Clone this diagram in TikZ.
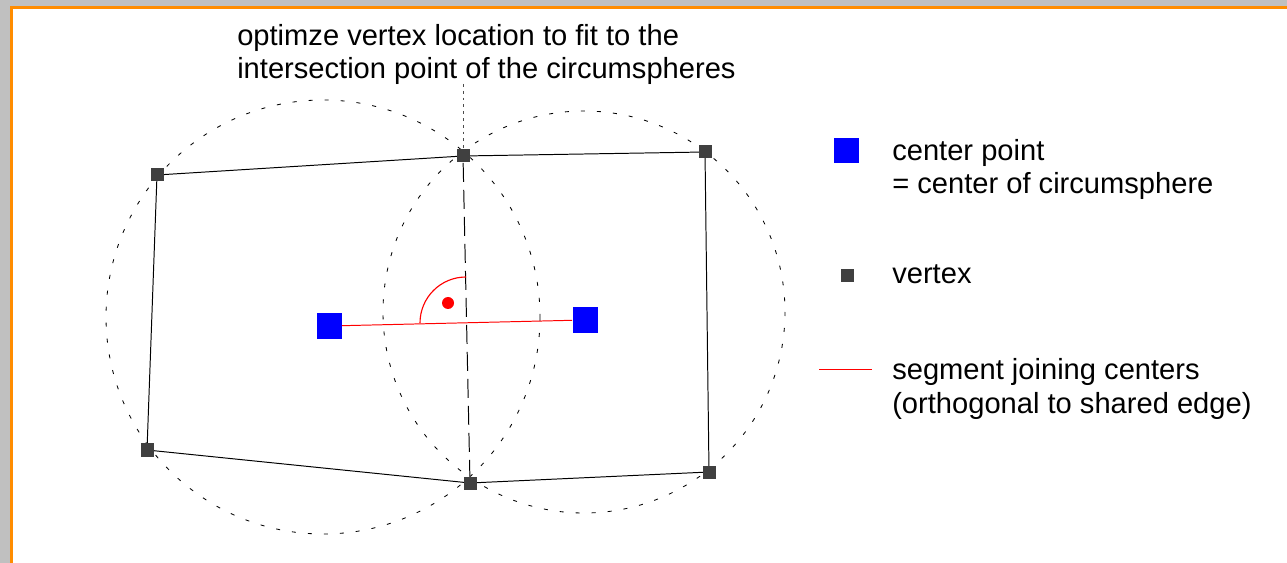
\documentclass[tikz,border=0pt]{standalone}
\usepackage{fontspec}
\setmainfont{Liberation Sans}
\usepackage{tikz}
\definecolor{slidegray}{RGB}{192,192,192}
\definecolor{frameorange}{RGB}{255,140,0}
\definecolor{vtxgray}{RGB}{64,64,64}
\definecolor{ctrblue}{RGB}{0,0,255}

\begin{document}
\begin{tikzpicture}[x=0.025cm,y=-0.025cm,
  vtx/.style={fill=vtxgray,draw=none,minimum size=0.325cm,inner sep=0pt},
  ctr/.style={fill=ctrblue,draw=none,minimum size=0.625cm,inner sep=0pt},
  sphere/.style={dash pattern=on 0.1cm off 0.3cm,line width=0.6pt},
  sharededge/.style={dash pattern=on 0.475cm off 0.2cm,line width=0.7pt},
  leader/.style={dash pattern=on 0.07cm off 0.1cm,line width=0.6pt,black!70},
  txt/.style={font=\fontsize{20.7}{23.5}\selectfont,inner sep=0pt,align=left,anchor=base west}]
\useasboundingbox (0,0) rectangle (1287,563);
\clip (0,0) rectangle (1287,563);
\fill[slidegray] (0,0) rectangle (1287,563);
\draw[frameorange,fill=white,line width=2.1pt] (11.5,7.5) rectangle (1320,600);

% circumspheres
\draw[sphere] (323,317) circle[radius=217];
\draw[sphere] (584,312) circle[radius=201];

% vertices of the two cells
\node[vtx] (v1) at (157,175) {};
\node[vtx] (v2) at (463,156) {};
\node[vtx] (v3) at (705,152) {};
\node[vtx] (v4) at (147,450) {};
\node[vtx] (v5) at (470,483) {};
\node[vtx] (v6) at (709,472) {};
\draw[line width=0.7pt] (v1.center) -- (v2.center) -- (v3.center) -- (v6.center) -- (v5.center) -- (v4.center) -- cycle;
\draw[sharededge] (v2) -- (v5);
\foreach \v in {v1,v2,v3,v4,v5,v6} \node[vtx] at (\v) {};

% centers and the joining segment
\node[ctr] (c1) at (329,326) {};
\node[ctr] (c2) at (585,320) {};
\draw[red,line width=0.7pt] (c1) -- (c2);
\draw[red,line width=0.8pt] (420,323) arc[start angle=180,end angle=270,radius=46];
\fill[red] (448,303) circle[radius=6];

% note on top
\node[txt] (note) at (237,79) {optimze vertex location to fit to the\\intersection point of the circumspheres};
\coordinate (lead) at (463,84);
\draw[leader] (lead) -- (v2);

% legend
\node[ctr] (lc) at (846.5,150.5) {};
\node[txt] (lct) at (892,194) {center point\\= center of circumsphere};
\node[vtx] (lv) at (847.5,275.5) {};
\node[txt] (lvt) at (892,284) {vertex};
\coordinate (ls1) at (819,369);
\coordinate (ls2) at (872,369);
\draw[red,line width=0.7pt] (ls1) -- (ls2);
\node[txt] (lst) at (892,413) {segment joining centers\\(orthogonal to shared edge)};
\end{tikzpicture}
\end{document}
